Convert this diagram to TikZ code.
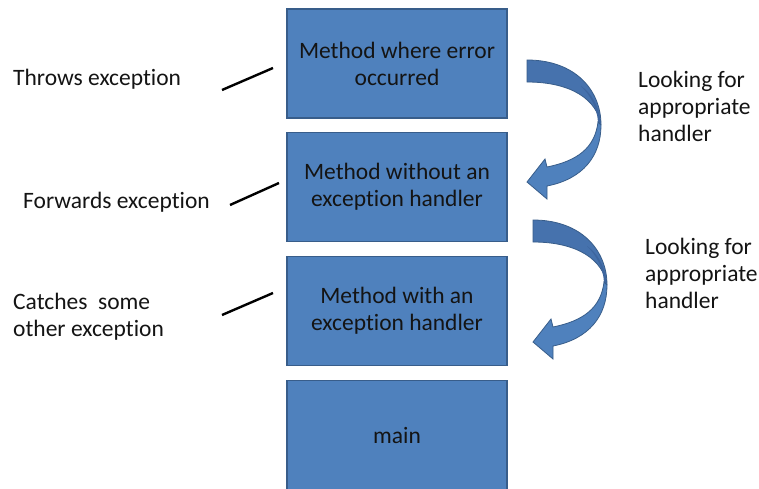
\documentclass[tikz,border=0pt]{standalone}
\usepackage{fontspec}
\setmainfont[Ligatures=NoCommon]{Carlito}
\definecolor{boxfill}{HTML}{4F81BD}
\definecolor{boxedge}{HTML}{385D8A}
\definecolor{bandback}{HTML}{4672AD}
\definecolor{bandshade}{HTML}{3D659E}
\definecolor{inktext}{HTML}{141414}
\begin{document}
\begin{tikzpicture}[x=1pt,y=-1pt,
  frame/.style={draw=boxedge, fill=boxfill, line width=1.4pt,
    minimum width=220pt, minimum height=109pt, inner sep=0pt,
    align=center, text=inktext, font=\fontsize{23.5}{27}\selectfont},
  lbl/.style={anchor=west, align=left, inner sep=0pt, text=inktext,
    font=\fontsize{23.5}{27}\selectfont},
  pointer/.style={draw=black, line width=2.4pt},
  turnarrow/.pic={
    % back of the ribbon (upper band)
    \fill[bandback, draw=boxedge, line width=0.8pt]
      (0,0) .. controls (48,0) and (74,30) .. (74,65)
      .. controls (70,40) and (45,22) .. (0,22) -- cycle;
    \fill[bandshade]
      (74,65) .. controls (72,45) and (64,33) .. (54,26)
      .. controls (64,36) and (70,48) .. (71,62) -- cycle;
    % front of the ribbon with the arrow head
    \fill[boxfill, draw=boxedge, line width=0.8pt]
      (74,65) .. controls (74,96) and (56,119) .. (20,126)
      -- (20,139) -- (0,122) -- (18,99) -- (20,107)
      .. controls (50,101) and (68,88) .. (71,62) -- cycle;
  }]
\clip (0,0) rectangle (759,489);
\fill[white] (0,0) rectangle (759,489);

% call stack
\node[frame] (m1) at (397,63.5) {Method where error\\occurred};
\node[frame] (m2) at (397,187) {Method without an\\exception handler};
\node[frame] (m3) at (397,311) {Method with an\\exception handler};
\node[frame] (m4) at (397,435) {main};

% labels on the left
\node[lbl] (t1) at (13,79) {Throws exception};
\node[lbl] (t2) at (23,202) {Forwards exception};
\node[lbl] (t3) at (13,316.5) {Catches\ \ some\\other exception};

\coordinate (p1a) at (222,90);  \coordinate (p1b) at (273,68);
\coordinate (p2a) at (230,205); \coordinate (p2b) at (279,183);
\coordinate (p3a) at (222,315); \coordinate (p3b) at (273,293);
\draw[pointer] (p1a) -- (p1b);
\draw[pointer] (p2a) -- (p2b);
\draw[pointer] (p3a) -- (p3b);

% search for a handler down the stack
\pic at (527,60) {turnarrow};
\pic at (533,220) {turnarrow};

\node[lbl] (s1) at (638,106) {Looking for\\appropriate\\handler};
\node[lbl] (s2) at (645,273) {Looking for\\appropriate\\handler};
\end{tikzpicture}
\end{document}
